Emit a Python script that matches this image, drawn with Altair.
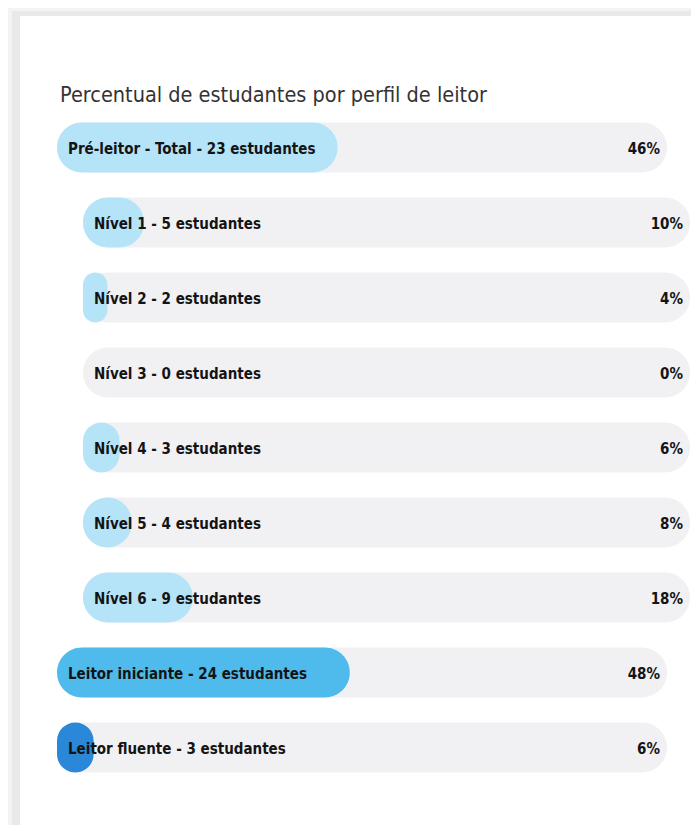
import altair as alt
import pandas as pd

labels = [
    "Pré-leitor - Total - 23 estudantes",
    "Nível 1 - 5 estudantes",
    "Nível 2 - 2 estudantes",
    "Nível 3 - 0 estudantes",
    "Nível 4 - 3 estudantes",
    "Nível 5 - 4 estudantes",
    "Nível 6 - 9 estudantes",
    "Leitor iniciante - 24 estudantes",
    "Leitor fluente - 3 estudantes",
]
values = [46, 10, 4, 0, 6, 8, 18, 48, 6]
groups = ["Pré-leitor", "Pré-leitor", "Pré-leitor", "Pré-leitor", "Pré-leitor",
          "Pré-leitor", "Pré-leitor", "Leitor iniciante", "Leitor fluente"]
levels = ["main", "sub", "sub", "sub", "sub", "sub", "sub", "main", "main"]

group_names = ["Pré-leitor", "Leitor iniciante", "Leitor fluente"]
group_colors = ["#b5e4f8", "#4fbbec", "#2b87d8"]

title_text = "Percentual de estudantes por perfil de leitor"

df = pd.DataFrame({"label": labels, "value": values, "group": groups, "level": levels})
df["pct"] = df["value"].astype(str) + "%"
df["start"] = 0
df["end"] = 100

FONT = "Liberation Sans Narrow, DejaVu Sans Condensed, Roboto, sans-serif"

y_enc = alt.Y("label:N", sort=labels,
              scale=alt.Scale(paddingInner=1/3, paddingOuter=1/6), axis=None)
x_scale = alt.Scale(domain=[0, 100], nice=False, zero=False)
color_enc = alt.Color("group:N", scale=alt.Scale(domain=group_names, range=group_colors), legend=None)

base = alt.Chart(df)
one = alt.Chart(pd.DataFrame({"a": [0]}))

# card decoration
shadow_outer = one.mark_rect(color="#f3f3f3").encode(
    x=alt.value(-49), x2=alt.value(642), y=alt.value(-102), y2=alt.value(720))
shadow_inner = one.mark_rect(color="#e9e9e9").encode(
    x=alt.value(-45), x2=alt.value(639), y=alt.value(-99), y2=alt.value(720))
card = one.mark_rect(color="white").encode(
    x=alt.value(-37), x2=alt.value(637), y=alt.value(-94), y2=alt.value(720))

title = one.mark_text(text=title_text, align="left", baseline="alphabetic",
                      font=FONT, fontSize=21.5, color="#333333").encode(
    x=alt.value(3), y=alt.value(-8))

def bars(level, xoff, x2off):
    sub = base.transform_filter(alt.datum.level == level)
    bg = sub.mark_bar(cornerRadius=25, color="#f1f1f4", xOffset=xoff, x2Offset=x2off).encode(
        x=alt.X("start:Q", scale=x_scale, axis=None), x2="end:Q", y=y_enc)
    fg = sub.transform_filter(alt.datum.value > 0).mark_bar(
        cornerRadius=25, xOffset=xoff, x2Offset=xoff).encode(
        x=alt.X("start:Q", scale=x_scale, axis=None), x2="value:Q", y=y_enc, color=color_enc)
    lab = sub.mark_text(align="left", baseline="middle", font=FONT, fontSize=15,
                        fontWeight="bold", color="#141414", dx=11 + xoff, dy=1).encode(
        x=alt.X("start:Q", scale=x_scale, axis=None), y=y_enc, text="label:N")
    pct = sub.mark_text(align="right", baseline="middle", font=FONT, fontSize=15,
                        fontWeight="bold", color="#141414", dx=-7 + x2off, dy=1).encode(
        x=alt.X("end:Q", scale=x_scale, axis=None), y=y_enc, text="pct:N")
    return [bg, fg, lab, pct]

layers = [shadow_outer, shadow_inner, card, title] + bars("main", 0, 0) + bars("sub", 26, 23)

chart = alt.layer(*layers).properties(
    width=610, height=675,
    autosize=alt.AutoSizeParams(type="none"),
    padding={"left": 49, "top": 102, "right": 24, "bottom": 40},
).configure_view(stroke=None)

chart.save("out.html", embed_options={"renderer": "svg", "actions": False})
